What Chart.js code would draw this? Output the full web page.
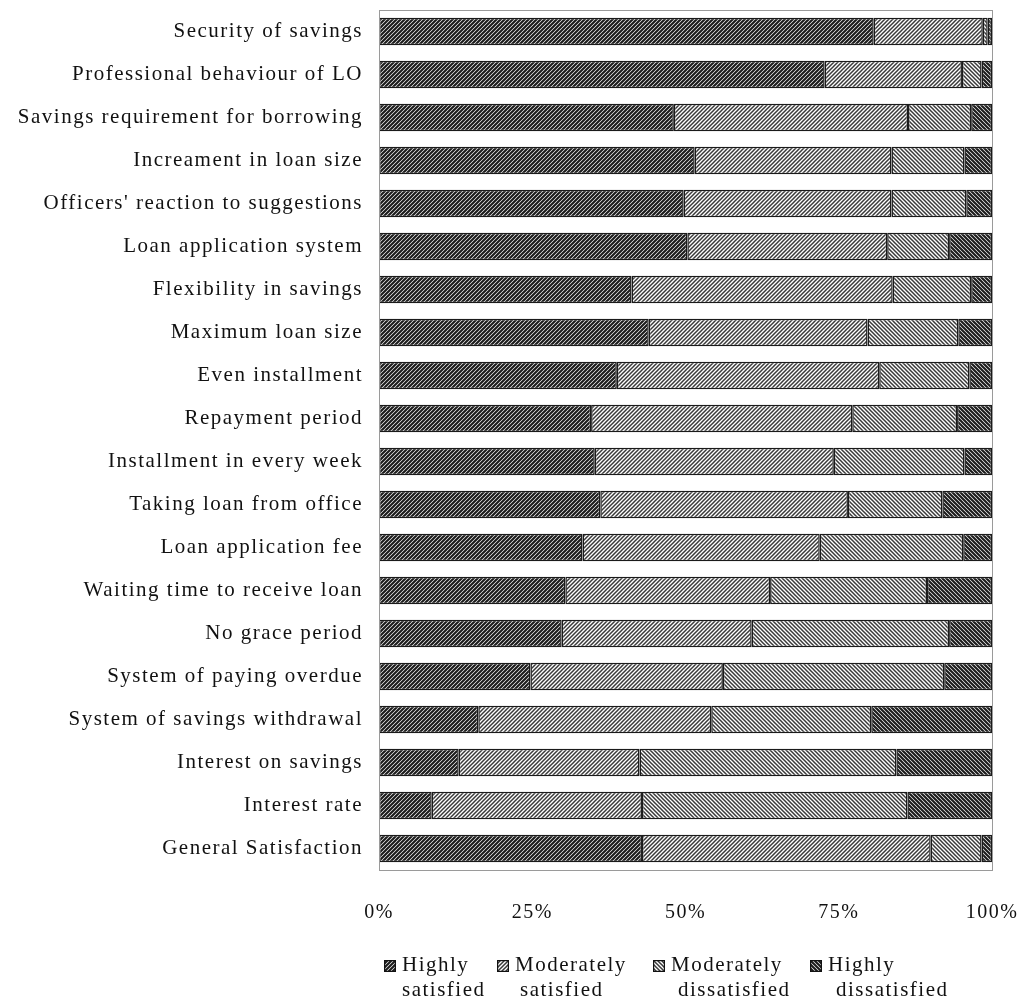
<!DOCTYPE html>
<html lang="en">
<head>
    <meta charset="UTF-8">
    <title>Satisfaction with loan and savings services</title>
    <script src="https://cdn.jsdelivr.net/npm/chart.js"></script>
    <style>
        body { margin: 0; background: #fff; }
        .wrap { position: relative; width: 1017px; height: 1007px; }
        .legend { position: absolute; top: 952px; left: 0; width: 1017px; height: 55px; font-family: "Liberation Serif", serif; font-size: 21px; letter-spacing: 1.5px; color: #111; }
        .legend .item { position: absolute; top: 0; }
        .legend canvas { position: absolute; top: 8px; left: 0; }
        .legend .txt { position: absolute; top: 0; left: 18px; line-height: 25px; white-space: nowrap; }
    </style>
</head>
<body>
    <div class="wrap">
        <canvas id="chart" width="1017" height="1007"></canvas>
        <div class="legend" id="legend"></div>
    </div>

    <script>
        const categories = [
            'Security of savings',
            'Professional behaviour of LO',
            'Savings requirement for borrowing',
            'Increament in loan size',
            "Officers' reaction to suggestions",
            'Loan application system',
            'Flexibility in savings',
            'Maximum loan size',
            'Even installment',
            'Repayment period',
            'Installment in every week',
            'Taking loan from office',
            'Loan application fee',
            'Waiting time to receive loan',
            'No grace period',
            'System of paying overdue',
            'System of savings withdrawal',
            'Interest on savings',
            'Interest rate',
            'General Satisfaction'
        ];

        // percentages per category
        const highlySatisfied      = [80.7, 72.7, 48.1, 51.5, 49.7, 50.3, 41.2, 44.0, 38.8, 34.6, 35.2, 36.1, 33.2, 30.4, 29.8, 24.7, 16.2, 13.0,  8.6, 42.9];
        const moderatelySatisfied  = [17.8, 22.4, 38.2, 32.1, 33.9, 32.6, 42.6, 35.7, 42.8, 42.6, 39.0, 40.4, 38.7, 33.4, 31.0, 31.4, 38.0, 29.5, 34.3, 47.1];
        const moderatelyDissatisfied = [0.8, 3.2, 10.3, 11.9, 12.2, 10.1, 12.8, 14.8, 14.7, 17.1, 21.3, 15.4, 23.4, 25.6, 32.2, 36.1, 26.1, 41.9, 43.3,  8.3];
        const highlyDissatisfied   = [ 0.7,  1.7,  3.4,  4.5,  4.2,  7.0,  3.4,  5.5,  3.7,  5.7,  4.5,  8.1,  4.7, 10.6,  7.0,  7.8, 19.7, 15.6, 13.8,  1.7];

        const seriesNames = [['Highly', 'satisfied'], ['Moderately', 'satisfied'], ['Moderately', 'dissatisfied'], ['Highly', 'dissatisfied']];
        const xTicks = [0, 25, 50, 75, 100];

        // hatch fill: dir 1 = "/" lines, -1 = "\" lines
        function hatch(dir, lineWidth, color) {
            const s = 4;
            const c = document.createElement('canvas');
            c.width = s; c.height = s;
            const g = c.getContext('2d');
            g.fillStyle = '#fff';
            g.fillRect(0, 0, s, s);
            g.strokeStyle = color;
            g.lineWidth = lineWidth;
            g.beginPath();
            for (let k = -1; k <= 1; k++) {
                if (dir > 0) {
                    g.moveTo(k * s - 1, s + 1); g.lineTo(k * s + s + 1, -1);
                } else {
                    g.moveTo(k * s - 1, -1); g.lineTo(k * s + s + 1, s + 1);
                }
            }
            g.stroke();
            return g.createPattern(c, 'repeat');
        }

        const ctx = document.getElementById('chart').getContext('2d');
        const fills = [
            hatch(1, 2.2, '#1c1c1c'),
            hatch(1, 1.5, '#3a3a3a'),
            hatch(-1, 1.5, '#3a3a3a'),
            hatch(-1, 2.2, '#1c1c1c')
        ];
        const values = [highlySatisfied, moderatelySatisfied, moderatelyDissatisfied, highlyDissatisfied];

        const frame = {
            id: 'frame',
            beforeDraw: (chart) => { chart.ctx.letterSpacing = '1.5px'; },
            afterDatasetsDraw: (chart) => {
                const a = chart.chartArea;
                const c = chart.ctx;
                c.save();
                c.strokeStyle = '#9a9a9a';
                c.lineWidth = 1;
                c.strokeRect(a.left + 0.5, a.top + 0.5, a.right - a.left, a.bottom - a.top);
                c.restore();
            }
        };

        // no automatic room for the end labels, the plot box is fixed
        function noEdgePadding(scale) {
            scale.paddingLeft = 0;
            scale.paddingRight = 0;
            scale.paddingTop = 0;
            scale.paddingBottom = 0;
        }

        new Chart(ctx, {
            type: 'bar',
            data: {
                labels: categories,
                datasets: values.map((v, i) => ({
                    label: seriesNames[i].join(' '),
                    data: v,
                    backgroundColor: fills[i],
                    borderColor: '#1a1a1a',
                    borderWidth: 1.5,
                    borderSkipped: false,
                    barPercentage: 0.64,
                    categoryPercentage: 1
                }))
            },
            options: {
                indexAxis: 'y',
                responsive: false,
                animation: false,
                layout: { padding: { top: 10, right: 25, left: 0, bottom: 0 } },
                plugins: { legend: { display: false }, tooltip: { enabled: false } },
                scales: {
                    x: {
                        stacked: true,
                        min: 0,
                        max: 100,
                        afterBuildTicks: (scale) => { scale.ticks = xTicks.map(v => ({ value: v })); },
                        afterFit: (scale) => { scale.height = 137; noEdgePadding(scale); },
                        grid: { display: false, drawTicks: false },
                        border: { display: false },
                        ticks: {
                            padding: 31,
                            color: '#111',
                            font: { family: 'Liberation Serif', size: 20 },
                            callback: (v) => v + '%'
                        }
                    },
                    y: {
                        stacked: true,
                        afterFit: (scale) => { scale.width = 379; noEdgePadding(scale); },
                        grid: { display: false, drawTicks: false },
                        border: { display: false },
                        ticks: {
                            padding: 16,
                            color: '#111',
                            autoSkip: false,
                            font: { family: 'Liberation Serif', size: 21 }
                        }
                    }
                }
            },
            plugins: [frame]
        });

        // two-line legend underneath
        const legend = document.getElementById('legend');
        const itemLeft = [384, 497, 653, 810];
        const secondIndent = [0, 5, 7, 8];
        seriesNames.forEach((name, i) => {
            const item = document.createElement('div');
            item.className = 'item';
            item.style.left = itemLeft[i] + 'px';
            const sw = document.createElement('canvas');
            sw.width = 12; sw.height = 12;
            const g = sw.getContext('2d');
            g.fillStyle = fills[i];
            g.fillRect(0, 0, 12, 12);
            g.strokeStyle = '#111';
            g.lineWidth = 1.2;
            g.strokeRect(0.6, 0.6, 10.8, 10.8);
            item.appendChild(sw);
            const txt = document.createElement('div');
            txt.className = 'txt';
            txt.innerHTML = name[0] + '<br><span style="padding-left:' + secondIndent[i] + 'px">' + name[1] + '</span>';
            item.appendChild(txt);
            legend.appendChild(item);
        });
    </script>
</body>
</html>
